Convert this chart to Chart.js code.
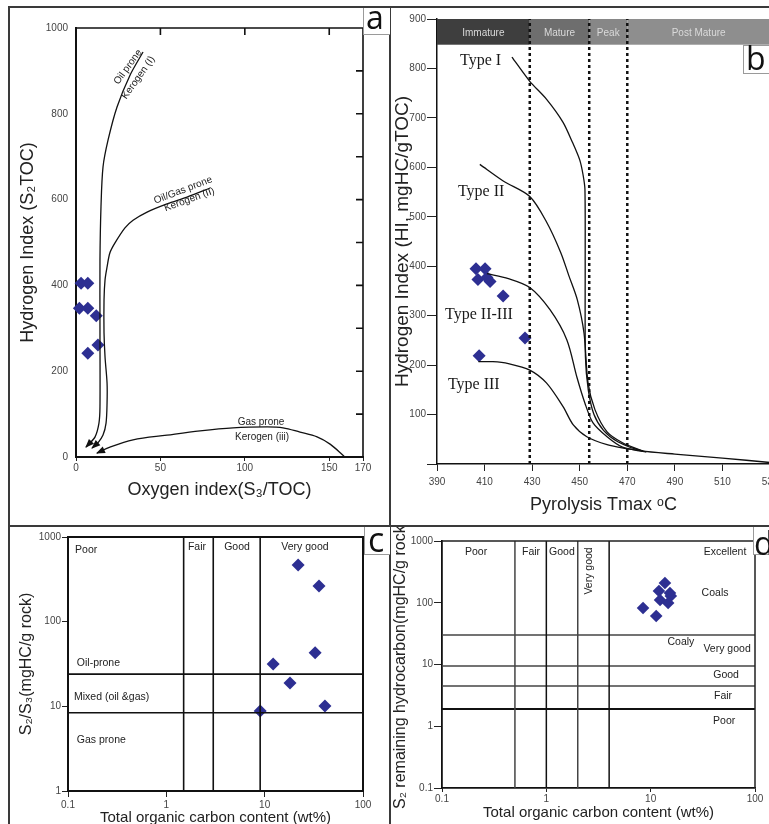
<!DOCTYPE html>
<html><head><meta charset="utf-8">
<script src="https://cdn.jsdelivr.net/npm/chart.js@4.4.1/dist/chart.umd.min.js"></script>
<style>
html,body{margin:0;padding:0;width:769px;height:824px;overflow:hidden;background:#fff;position:relative;}
canvas{position:absolute;}
.ln{position:absolute;background:#3a3a3a;z-index:3;}
.box{position:absolute;background:#fff;border-left:1px solid #9a9a9a;border-bottom:1px solid #9a9a9a;box-sizing:border-box;z-index:4;}
.tag{position:absolute;font-family:"Open Sans",sans-serif;color:#111;line-height:1;z-index:5;white-space:nowrap;}
</style></head><body>
<canvas id="ca" width="379" height="517" style="left:10px;top:8px"></canvas>
<canvas id="cb" width="400" height="517" style="left:391px;top:8px"></canvas>
<canvas id="cc" width="379" height="310" style="left:10px;top:527px"></canvas>
<canvas id="cd" width="400" height="310" style="left:391px;top:527px"></canvas>

<div class="ln" style="left:8px;top:6px;width:761px;height:2px"></div>
<div class="ln" style="left:8px;top:6px;width:2px;height:818px"></div>
<div class="ln" style="left:389px;top:6px;width:2px;height:818px"></div>
<div class="ln" style="left:8px;top:525px;width:761px;height:2px"></div>

<div class="box" style="left:363px;top:8px;width:27px;height:27px"></div>
<div class="tag" style="left:366px;top:1px;font-size:32px">a</div>
<div class="box" style="left:743px;top:45px;width:30px;height:29px;border-top:1px solid #9a9a9a"></div>
<div class="tag" style="left:746px;top:42px;font-size:32px">b</div>
<div class="box" style="left:364px;top:527px;width:26px;height:28px"></div>
<div class="tag" style="left:368px;top:522px;font-size:34px">c</div>
<div class="box" style="left:753px;top:527px;width:30px;height:28px"></div>
<div class="tag" style="left:754px;top:527px;font-size:32px">d</div>

<script>
// ================= DATA =================
// Panel a : Hydrogen index vs Oxygen index
const aOI = [3, 7, 2, 7, 12, 13, 7];
const aHI = [405, 405, 347, 347, 329, 261, 242];
const aXTicks = [0, 50, 100, 150, 170];
const aTypeI_OI  = [39.7, 32.0, 24.3, 19.0, 16.0, 14.8, 14.2, 14.2, 14.2, 13.6, 11.3, 7.1, 5.9];
const aTypeI_HI  = [944, 890, 816, 739, 676, 583, 459, 296, 117, 79, 47, 28, 23];
const aTypeII_OI = [79.4, 65.8, 53.9, 42.1, 33.8, 29.0, 23.1, 20.1, 18.4, 17.2, 16.6, 16.6, 17.2, 18.4, 18.4, 17.8, 16.0, 13.0, 9.5];
const aTypeII_HI = [627, 606, 590, 571, 552, 534, 499, 476, 443, 413, 366, 289, 233, 172, 126, 79, 51, 33, 21];
const aTypeIII_OI = [158.8, 150.5, 142.8, 132.7, 122.6, 113.2, 93.0, 73.5, 53.9, 33.8, 20.1, 12.4];
const aTypeIII_HI = [2, 30, 47, 58, 68, 70, 68, 61, 51, 40, 23, 9];

// Panel b : HI vs Tmax
const bTmax = [406.4, 410.2, 407.2, 411, 412.3, 417.8, 427, 407.7];
const bHI   = [395, 395, 373, 377, 369, 340, 255, 219];
const bZoneEdges = [390, 429, 454, 470, 530];
const bZoneNames = ['Immature', 'Mature', 'Peak', 'Post Mature'];
const bTypeI_T   = [421.5, 429, 436, 443, 447, 450, 451.4, 452.2, 452.3, 452.4, 453.6, 456, 460, 466, 476, 490, 510, 530];
const bTypeI_HI  = [823, 774, 738, 691, 650, 615, 585, 555, 400, 217, 150, 100, 68, 45, 27, 20, 12, 3];
const bTypeII_T  = [408, 418, 429, 436, 442, 445.5, 449, 451.8, 453.5, 456.4, 461.5, 468, 476.6];
const bTypeII_HI = [606, 572, 541, 490, 428, 380, 332, 265, 164, 110, 65, 43, 26];
const bTypeII_III_T  = [411, 420, 429, 437.5, 444.6, 448.8, 452.2, 455.6, 461.5, 468, 476.6];
const bTypeII_III_HI = [385, 375, 357, 312, 251, 176, 123, 83, 55, 34, 26];
const bTypeIII_T  = [407.4, 413.5, 420, 429, 436, 443, 447.3, 453, 461.5, 471, 478];
const bTypeIII_HI = [207, 207, 203, 190, 164, 116, 79, 55, 39, 30, 24];

// Panel c : S2/S3 vs TOC
const cTOC  = [21.9, 35.7, 32.6, 12.2, 18.1, 41, 9];
const cS2S3 = [467, 263, 43, 31.6, 18.9, 10.1, 8.8];
const cTOCLimits  = [1.5, 3, 9];
const cS2S3Limits = [24, 8.4];
const cXTicks = [0.1, 1, 10, 100];
const cYTicks = [1, 10, 100, 1000];

// Panel d : S2 vs TOC
const dTOC = [13.7, 12.0, 15.3, 15.6, 12.3, 14.7, 8.45, 11.3];
const dS2  = [209, 155, 144, 129, 111, 99, 82, 61];
const dTOCLimits = [0.5, 1, 2, 4];
const dS2Limits  = [30, 9.5, 4.5, 1.9];
const dXTicks = [0.1, 1, 10, 100];
const dYTicks = [0.1, 1, 10, 100, 1000];

// ================= HELPERS =================
const SANS = '"Liberation Sans", Arial, Helvetica, sans-serif';
const SERIF = '"Liberation Serif", "Times New Roman", serif';
const BLUE = '#2d2f92';
Chart.defaults.font.family = SANS;
const zip = (xs, ys) => xs.map((v, i) => ({x: v, y: ys[i]}));
const fixW = w => s => { s.width = w; };
const fixH = h => s => { s.height = h; };
const setTicks = arr => s => { s.ticks = arr.map(v => ({value: v})); };
const TICKFONT = {family: SANS, size: 10};

function curve(xs, ys, extra) {
  return Object.assign({data: zip(xs, ys), showLine: true, borderColor: '#111', borderWidth: 1.3,
    pointRadius: 0, tension: 0.3, fill: false}, extra || {});
}
function diamonds(xs, ys, r) {
  return {data: zip(xs, ys), pointStyle: 'rectRot', pointRadius: r, backgroundColor: BLUE,
    borderColor: BLUE, borderWidth: 0, showLine: false, clip: false};
}
function vline(v, y0, y1, col, w, dash) {
  return {data: [{x: v, y: y0}, {x: v, y: y1}], showLine: true, borderColor: col, borderWidth: w,
    borderDash: dash || [], pointRadius: 0, tension: 0};
}
function hline(v, x0, x1, col, w) {
  return {data: [{x: x0, y: v}, {x: x1, y: v}], showLine: true, borderColor: col, borderWidth: w,
    pointRadius: 0, tension: 0};
}
function notesPlugin(notes) {
  return {id: 'notes', afterDatasetsDraw(chart) {
    const {ctx, scales: {x, y}} = chart;
    notes.forEach(n => {
      ctx.save();
      ctx.translate(x.getPixelForValue(n.x), y.getPixelForValue(n.y));
      if (n.rot) ctx.rotate(n.rot * Math.PI / 180);
      ctx.font = n.font; ctx.fillStyle = n.color || '#222';
      ctx.textAlign = n.align || 'center'; ctx.textBaseline = 'middle';
      ctx.fillText(n.text, 0, 0);
      ctx.restore();
    });
  }};
}
function framePlugin(f) {
  return {id: 'frame', afterDatasetsDraw(chart) {
    const {ctx, chartArea: a, scales: {x, y}} = chart;
    ctx.save(); ctx.strokeStyle = f.color || '#111'; ctx.lineWidth = f.lw || 1.5;
    ctx.beginPath();
    ctx.moveTo(a.left, a.top); ctx.lineTo(a.right, a.top); ctx.lineTo(a.right, a.bottom);
    (f.rightTicks || []).forEach(v => { const p = y.getPixelForValue(v); ctx.moveTo(a.right, p); ctx.lineTo(a.right - f.len, p); });
    (f.topTicks || []).forEach(v => { const p = x.getPixelForValue(v); ctx.moveTo(p, a.top); ctx.lineTo(p, a.top + f.len); });
    ctx.stroke(); ctx.restore();
  }};
}
const arrowPlugin = {id: 'arrows', afterDatasetsDraw(chart) {
  const ctx = chart.ctx;
  chart.data.datasets.forEach((ds, i) => {
    if (!ds.arrow) return;
    const pts = chart.getDatasetMeta(i).data;
    const p = pts[pts.length - 1], q = pts[pts.length - 2];
    const ang = Math.atan2(p.y - q.y, p.x - q.x);
    ctx.save(); ctx.translate(p.x, p.y); ctx.rotate(ang);
    ctx.fillStyle = '#111'; ctx.beginPath();
    ctx.moveTo(1, 0); ctx.lineTo(-8, -3.5); ctx.lineTo(-8, 3.5); ctx.closePath(); ctx.fill();
    ctx.restore();
  });
}};
function bandPlugin(edges, names, fills, top, bottom) {
  return {id: 'band', beforeDatasetsDraw(chart) {
    const {ctx, scales: {x, y}} = chart;
    const yt = y.getPixelForValue(top), yb = y.getPixelForValue(bottom);
    ctx.save();
    for (let i = 0; i < names.length; i++) {
      const x0 = x.getPixelForValue(edges[i]), x1 = x.getPixelForValue(edges[i + 1]);
      ctx.fillStyle = fills[i]; ctx.fillRect(x0, yt, x1 - x0, yb - yt);
      ctx.fillStyle = '#dadada'; ctx.font = '10px ' + SANS;
      ctx.textAlign = 'center'; ctx.textBaseline = 'middle';
      ctx.fillText(names[i], (x0 + x1) / 2, (yt + yb) / 2 + 1);
    }
    ctx.restore();
  }};
}
function axisBase(o) {
  return Object.assign({
    ticks: {font: TICKFONT, color: '#444', autoSkip: false, maxRotation: 0, minRotation: 0,
      padding: o.pad, callback: v => String(v)},
    grid: {drawOnChartArea: false, drawTicks: o.tl > 0, tickLength: o.tl, color: '#222', lineWidth: 1},
    border: {display: true, color: '#111', width: o.bw || 2},
  }, o.rest);
}
const baseOpts = {responsive: false, animation: false, events: [],
  plugins: {legend: {display: false}, tooltip: {enabled: false}}};

// ================= PANEL A =================
new Chart(document.getElementById('ca'), {
  type: 'scatter',
  data: {datasets: [
    curve(aTypeI_OI, aTypeI_HI, {arrow: true}),
    curve(aTypeII_OI, aTypeII_HI, {arrow: true}),
    curve(aTypeIII_OI, aTypeIII_HI, {arrow: true, tension: 0.35}),
    diamonds(aOI, aHI, 6.5)
  ]},
  options: Object.assign({}, baseOpts, {
    layout: {padding: {top: 20, right: 26, left: 0, bottom: 0}},
    scales: {
      x: axisBase({pad: 1, tl: 4, rest: {type: 'linear', min: 0, max: 170,
        afterBuildTicks: setTicks(aXTicks), afterFit: fixH(68),
        title: {display: true, text: 'Oxygen index(S₃/TOC)', color: '#222',
          font: {family: SANS, size: 18}, padding: {top: 0, bottom: 24}}}}),
      y: axisBase({pad: 8, tl: 0, rest: {type: 'linear', min: 0, max: 1000,
        afterBuildTicks: setTicks([0, 200, 400, 600, 800, 1000]), afterFit: fixW(66),
        title: {display: true, text: 'Hydrogen Index (S₂TOC)', color: '#222',
          font: {family: SANS, size: 18}, padding: {top: 7, bottom: 0}}}})
    }
  }),
  plugins: [arrowPlugin,
    framePlugin({lw: 1.6, len: 7, rightTicks: [100, 200, 300, 400, 500, 600, 700, 800, 900], topTicks: [50, 100, 150]}),
    notesPlugin([
      {x: 30.8, y: 909, text: 'Oil prone', rot: -54, font: '10px ' + SANS},
      {x: 36.9, y: 884, text: 'Kerogen (I)', rot: -55, font: '10px ' + SANS},
      {x: 63.4, y: 622, text: 'Oil/Gas prone', rot: -21, font: '10px ' + SANS},
      {x: 67.2, y: 600, text: 'Kerogen (II)', rot: -20, font: '10px ' + SANS},
      {x: 109.6, y: 82, text: 'Gas prone', font: '10px ' + SANS},
      {x: 110.2, y: 47, text: 'Kerogen (iii)', font: '10px ' + SANS}
    ])]
});

// ================= PANEL B =================
new Chart(document.getElementById('cb'), {
  type: 'scatter',
  data: {datasets: [
    vline(bZoneEdges[1], 0, 900, '#111', 2.5, [3, 3]),
    vline(bZoneEdges[2], 0, 900, '#111', 2.5, [3, 3]),
    vline(bZoneEdges[3], 0, 900, '#111', 2.5, [3, 3]),
    curve(bTypeI_T, bTypeI_HI, {tension: 0.25}),
    curve(bTypeII_T, bTypeII_HI),
    curve(bTypeII_III_T, bTypeII_III_HI),
    curve(bTypeIII_T, bTypeIII_HI),
    diamonds(bTmax, bHI, 6.5)
  ]},
  options: Object.assign({}, baseOpts, {
    layout: {padding: {top: 11, right: 21, left: 0, bottom: 0}},
    scales: {
      x: axisBase({pad: 5, tl: 7, bw: 1.5, rest: {type: 'linear', min: 390, max: 530,
        ticks: {stepSize: 20, font: TICKFONT, color: '#444', autoSkip: false, maxRotation: 0, padding: 5, callback: v => String(v)},
        afterFit: fixH(61),
        title: {display: true, text: 'Pyrolysis Tmax ᵒC', color: '#222',
          font: {family: SANS, size: 18}, padding: {top: 0, bottom: 9}}}}),
      y: axisBase({pad: 1, tl: 10, bw: 1.5, rest: {type: 'linear', min: 0, max: 900,
        ticks: {stepSize: 100, font: TICKFONT, color: '#444', autoSkip: false, padding: 1,
          callback: v => v === 0 ? '' : String(v)},
        afterFit: fixW(46),
        title: {display: true, text: 'Hydrogen Index (HI, mgHC/gTOC)', color: '#222',
          font: {family: SANS, size: 19}, padding: {top: 0, bottom: 0}}}})
    }
  }),
  plugins: [
    bandPlugin(bZoneEdges, bZoneNames, ['#3e3e3e', '#6e6e6e', '#878787', '#8e8e8e'], 900, 848),
    notesPlugin([
      {x: 399.7, y: 815, text: 'Type I', align: 'left', font: '16px ' + SERIF, color: '#1a1a1a'},
      {x: 398.8, y: 551, text: 'Type II', align: 'left', font: '16px ' + SERIF, color: '#1a1a1a'},
      {x: 393.4, y: 302, text: 'Type II-III', align: 'left', font: '16px ' + SERIF, color: '#1a1a1a'},
      {x: 394.6, y: 160, text: 'Type III', align: 'left', font: '16px ' + SERIF, color: '#1a1a1a'}
    ])]
});

// ================= PANEL C =================
const cLines = [];
cTOCLimits.forEach(v => cLines.push(vline(v, 1, 1000, '#111', 1.6)));
cS2S3Limits.forEach(v => cLines.push(hline(v, 0.1, 100, '#111', 1.6)));
new Chart(document.getElementById('cc'), {
  type: 'scatter',
  data: {datasets: cLines.concat([diamonds(cTOC, cS2S3, 6.5)])},
  options: Object.assign({}, baseOpts, {
    layout: {padding: {top: 10, right: 26, left: 0, bottom: 0}},
    scales: {
      x: axisBase({pad: 2, tl: 6, rest: {type: 'logarithmic', min: 0.1, max: 100,
        afterBuildTicks: setTicks(cXTicks), afterFit: fixH(46),
        title: {display: true, text: 'Total organic carbon content (wt%)', color: '#222',
          font: {family: SANS, size: 15}, padding: {top: 0, bottom: 10}}}}),
      y: axisBase({pad: 1, tl: 6, rest: {type: 'logarithmic', min: 1, max: 1000,
        afterBuildTicks: setTicks(cYTicks), afterFit: fixW(58),
        title: {display: true, text: 'S₂/S₃(mgHC/g rock)', color: '#222',
          font: {family: SANS, size: 16}, padding: {top: 7, bottom: 0}}}})
    }
  }),
  plugins: [framePlugin({lw: 2, len: 0}),
    notesPlugin([
      {x: 0.118, y: 702, text: 'Poor', align: 'left', font: '10.5px ' + SANS},
      {x: 2.05, y: 762, text: 'Fair', font: '10.5px ' + SANS},
      {x: 5.23, y: 762, text: 'Good', font: '10.5px ' + SANS},
      {x: 25.7, y: 762, text: 'Very good', font: '10.5px ' + SANS},
      {x: 0.123, y: 32.5, text: 'Oil-prone', align: 'left', font: '10.5px ' + SANS},
      {x: 0.115, y: 12.9, text: 'Mixed (oil &gas)', align: 'left', font: '10.5px ' + SANS},
      {x: 0.123, y: 4.0, text: 'Gas prone', align: 'left', font: '10.5px ' + SANS}
    ])]
});

// ================= PANEL D =================
const dLines = [];
dTOCLimits.forEach((v, i) => dLines.push(vline(v, 0.1, 1000, i % 2 ? '#111' : '#444', 1.5)));
dS2Limits.forEach((v, i) => dLines.push(hline(v, 0.1, 100, i === 3 ? '#111' : '#444', i === 3 ? 2 : 1.5)));
new Chart(document.getElementById('cd'), {
  type: 'scatter',
  data: {datasets: dLines.concat([diamonds(dTOC, dS2, 6.3)])},
  options: Object.assign({}, baseOpts, {
    layout: {padding: {top: 14, right: 36, left: 0, bottom: 0}},
    scales: {
      x: axisBase({pad: 1, tl: 4, bw: 1.8, rest: {type: 'logarithmic', min: 0.1, max: 100,
        afterBuildTicks: setTicks(dXTicks), afterFit: fixH(49),
        title: {display: true, text: 'Total organic carbon content (wt%)', color: '#222',
          font: {family: SANS, size: 15}, padding: {top: 0, bottom: 15}}}}),
      y: axisBase({pad: 1, tl: 8, bw: 1.8, rest: {type: 'logarithmic', min: 0.1, max: 1000,
        afterBuildTicks: setTicks(dYTicks), afterFit: fixW(51),
        title: {display: true, text: 'S₂ remaining hydrocarbon(mgHC/g rock)', color: '#222',
          font: {family: SANS, size: 16}, padding: {top: 0, bottom: 0}}}})
    }
  }),
  plugins: [framePlugin({lw: 1.5, len: 0, color: '#222'}),
    notesPlugin([
      {x: 0.212, y: 663, text: 'Poor', font: '10.5px ' + SANS},
      {x: 0.713, y: 663, text: 'Fair', font: '10.5px ' + SANS},
      {x: 1.41, y: 663, text: 'Good', font: '10.5px ' + SANS},
      {x: 2.56, y: 327, text: 'Very good', rot: -90, font: '10.5px ' + SANS},
      {x: 51.6, y: 663, text: 'Excellent', font: '10.5px ' + SANS},
      {x: 41.4, y: 144, text: 'Coals', font: '10.5px ' + SANS},
      {x: 19.5, y: 23.1, text: 'Coaly', font: '10.5px ' + SANS},
      {x: 54, y: 17.8, text: 'Very good', font: '10.5px ' + SANS},
      {x: 52.8, y: 6.76, text: 'Good', font: '10.5px ' + SANS},
      {x: 49.4, y: 3.09, text: 'Fair', font: '10.5px ' + SANS},
      {x: 50.6, y: 1.22, text: 'Poor', font: '10.5px ' + SANS}
    ])]
});
</script>
</body></html>
